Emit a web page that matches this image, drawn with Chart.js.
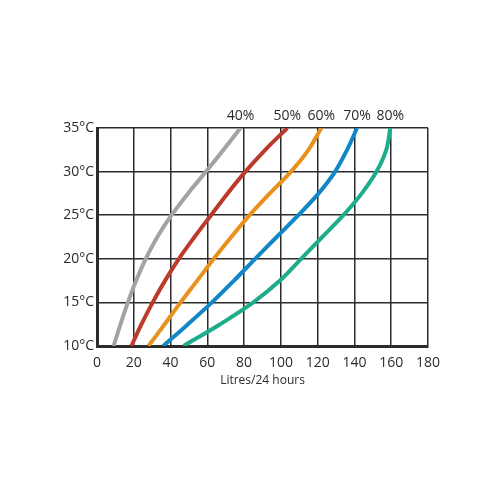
<!DOCTYPE html>
<html>
<head>
<meta charset="utf-8">
<script src="https://cdn.jsdelivr.net/npm/chart.js@4.4.1/dist/chart.umd.min.js"></script>
<style>
  html, body { margin: 0; padding: 0; background: #fff; }
  canvas { display: block; }
</style>
</head>
<body>
<canvas id="chart" width="500" height="500"></canvas>
<script>
// temperature (°C) at which each litres value was read
const temps = [10, 12.5, 15, 17.5, 20, 22.5, 25, 27.5, 30, 32.5, 35];

// litres per 24 hours, one list per humidity curve
const litres40 = [9, 12.8, 16.8, 21.3, 26.5, 32.8, 40.5, 49.5, 59.3, 68.8, 78];
const litres50 = [18.7, 24.2, 30.3, 37, 44.5, 53, 62, 71, 80.7, 91.5, 103.5];
const litres60 = [28, 36.8, 45.5, 54.5, 63.5, 73, 83, 94, 105.5, 115, 122];
const litres70 = [36, 49.5, 62.5, 74.5, 86, 97.7, 109.5, 120.5, 129.5, 136, 141.4];
const litres80 = [47, 67, 85, 99.5, 111, 122.5, 134, 144, 152, 157.3, 159.5];

const seriesLabels = ['40%', '50%', '60%', '70%', '80%'];
const seriesValues = [litres40, litres50, litres60, litres70, litres80];
const seriesColors = ['#a3a3a3', '#bc3a2b', '#e8911d', '#1187c8', '#1dad8b'];

const xTicks = [0, 20, 40, 60, 80, 100, 120, 140, 160, 180];
const yTicks = [10, 15, 20, 25, 30, 35];

const FONT = '"Open Sans", "DejaVu Sans", sans-serif';
const INK = '#2b2b2b';

// build datasets from the arrays above
const datasets = seriesValues.map((vals, i) => ({
    label: seriesLabels[i],
    data: vals.map((v, j) => ({ x: v, y: temps[j] })),
    borderColor: seriesColors[i],
    borderWidth: 4,
    pointRadius: 0,
    showLine: true,
    tension: 0.35,
    fill: false
}));

// percentage labels sitting above the top end of each curve
const curveLabels = {
    id: 'curveLabels',
    afterDatasetsDraw(chart) {
        const {ctx, chartArea, scales} = chart;
        ctx.save();
        ctx.font = '14px ' + FONT;
        ctx.fillStyle = INK;
        ctx.textAlign = 'center';
        ctx.textBaseline = 'middle';
        chart.data.datasets.forEach(ds => {
            const last = ds.data[ds.data.length - 1];
            ctx.fillText(ds.label, scales.x.getPixelForValue(last.x), chartArea.top - 12);
        });
        ctx.restore();
    }
};

new Chart(document.getElementById('chart').getContext('2d'), {
    type: 'scatter',
    data: { datasets },
    options: {
        responsive: false,
        animation: false,
        layout: {
            padding: { top: 128, right: 72, bottom: 0, left: 0 }
        },
        plugins: {
            legend: { display: false },
            tooltip: { enabled: false }
        },
        scales: {
            x: {
                type: 'linear',
                min: xTicks[0],
                max: xTicks[xTicks.length - 1],
                afterBuildTicks(scale) {
                    scale.ticks = xTicks.map(v => ({ value: v }));
                },
                afterFit(scale) {
                    scale.height = 154;
                },
                grid: { color: INK, lineWidth: 1.5, drawTicks: false },
                border: { color: INK, width: 3 },
                ticks: {
                    color: INK,
                    padding: 9,
                    maxRotation: 0,
                    font: { family: FONT, size: 14 }
                },
                title: {
                    display: true,
                    text: 'Litres/24 hours',
                    color: INK,
                    padding: { top: 0, bottom: 112 },
                    font: { family: FONT, size: 12 }
                }
            },
            y: {
                type: 'linear',
                min: yTicks[0],
                max: yTicks[yTicks.length - 1],
                afterBuildTicks(scale) {
                    scale.ticks = yTicks.map(v => ({ value: v }));
                },
                afterFit(scale) {
                    scale.width = 97;
                },
                grid: { color: INK, lineWidth: 1.5, drawTicks: false },
                border: { color: INK, width: 3 },
                ticks: {
                    color: INK,
                    padding: 3,
                    font: { family: FONT, size: 14 },
                    callback: v => v + '°C'
                }
            }
        }
    },
    plugins: [curveLabels]
});
</script>
</body>
</html>
